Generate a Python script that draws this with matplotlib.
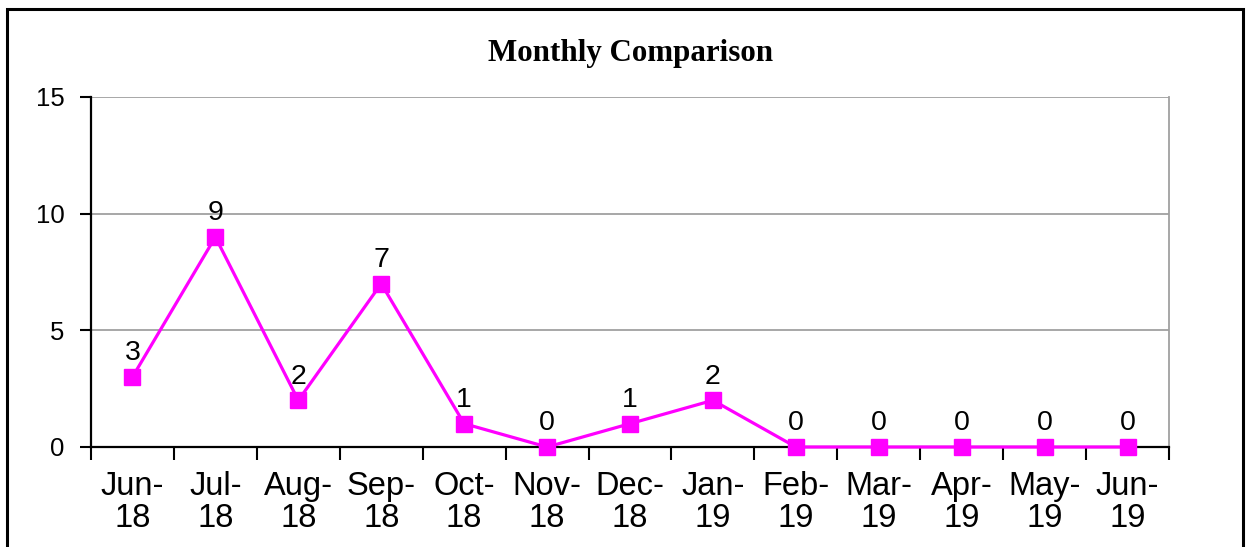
import numpy as np
import matplotlib.pyplot as plt
from matplotlib.patches import Rectangle

months = ["Jun-\n18", "Jul-\n18", "Aug-\n18", "Sep-\n18", "Oct-\n18", "Nov-\n18", "Dec-\n18",
          "Jan-\n19", "Feb-\n19", "Mar-\n19", "Apr-\n19", "May-\n19", "Jun-\n19"]
counts = [3, 9, 2, 7, 1, 0, 1, 2, 0, 0, 0, 0, 0]
y_ticks = [0, 5, 10, 15]

plt.rcParams['font.family'] = ['Liberation Sans', 'DejaVu Sans']

fig = plt.figure(figsize=(12.46, 5.47), dpi=100)
ax = fig.add_axes([91 / 1246, 1 - 447 / 547, (1169 - 91) / 1246, (447 - 97) / 547])

# outer chart border
fig.patches.append(Rectangle((7 / 1246, -0.05), (1243 - 7) / 1246, 1 - 9 / 547 + 0.05,
                             transform=fig.transFigure, fill=False, edgecolor='black',
                             linewidth=2.2, zorder=0))

x = np.arange(len(months))
ax.plot(x, counts, color='#FF00FF', linewidth=2.3, marker='s', markersize=11,
        clip_on=False, zorder=3)
for xi, v in zip(x, counts):
    ax.annotate(str(v), (xi, v), xytext=(0, 12), textcoords='offset points',
                ha='center', va='baseline', fontsize=20.5)

ax.set_xlim(-0.5, len(months) - 0.5)
ax.set_ylim(0, 15)
ax.set_yticks(y_ticks)
ax.tick_params(axis='y', direction='out', length=8, width=1.5, labelsize=18.5, pad=11)
ax.set_xticks(x)
ax.set_xticklabels(months, fontsize=23.5, linespacing=1.05)
ax.tick_params(axis='x', which='major', length=0, pad=17)
ax.set_xticks(np.arange(-0.5, len(months)), minor=True)
ax.tick_params(axis='x', which='minor', direction='out', length=9, width=1.5)

ax.yaxis.grid(True, color='#a0a0a0', linewidth=1.3)
ax.set_axisbelow(True)
ax.spines['top'].set_visible(False)
ax.spines['right'].set_color('#a0a0a0')
ax.spines['right'].set_linewidth(1.3)
ax.spines['left'].set_linewidth(1.6)
ax.spines['bottom'].set_linewidth(1.6)

fig.text(631 / 1246, 1 - 53 / 547, "Monthly Comparison", ha='center', va='center',
         fontsize=22.3, fontweight='bold', family='Liberation Serif')

fig.savefig("out.png", dpi=100)
